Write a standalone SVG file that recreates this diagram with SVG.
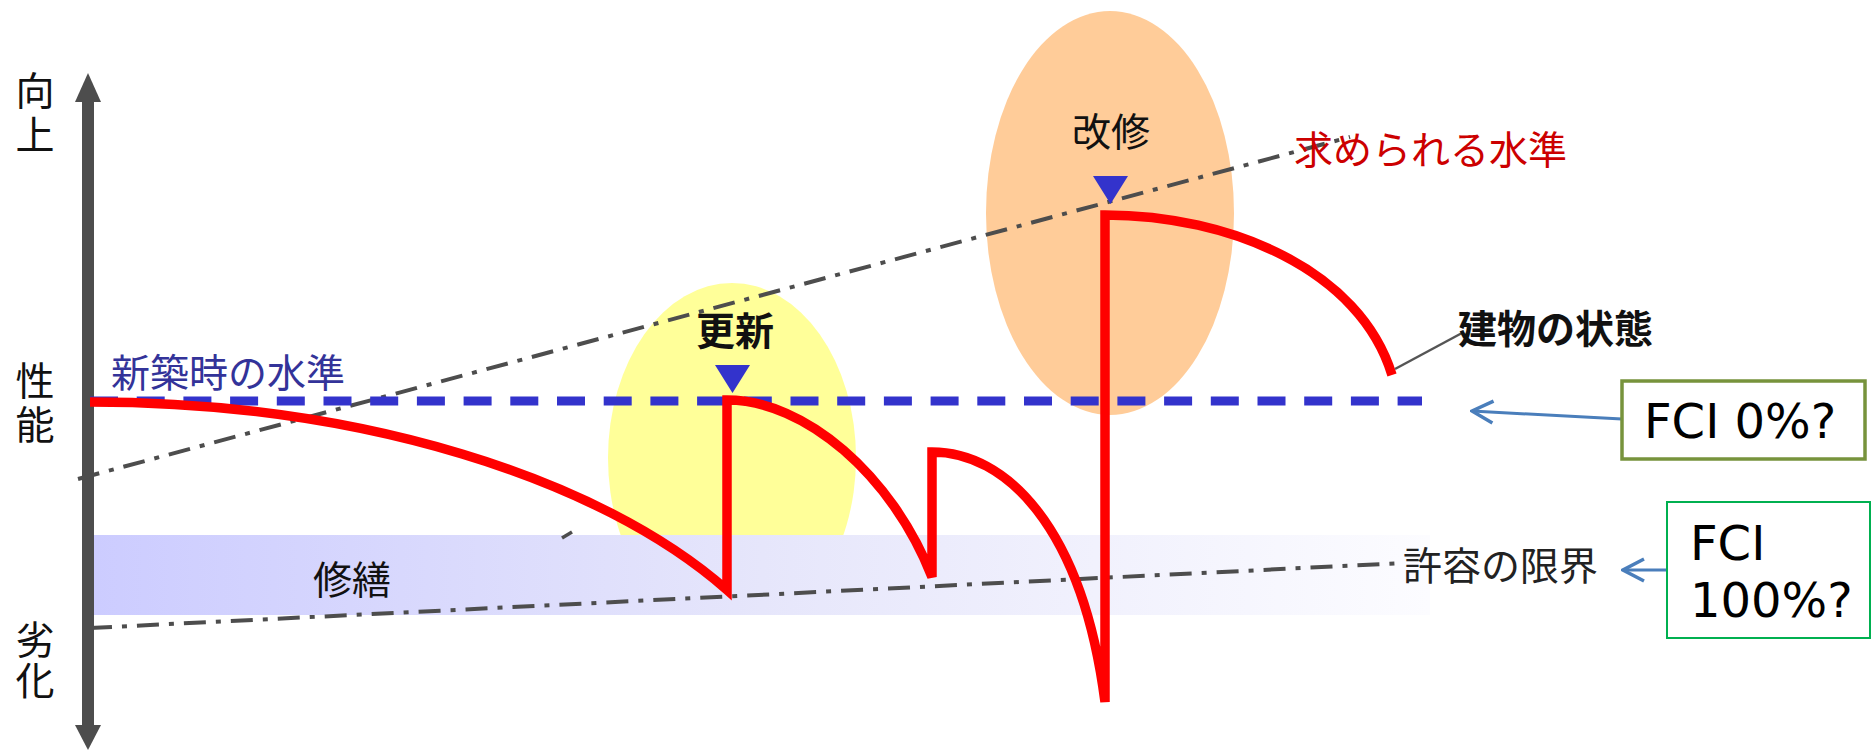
<svg xmlns="http://www.w3.org/2000/svg" width="1872" height="751" viewBox="0 0 1872 751">
<style>
.jp{font-family:"Noto Sans CJK JP","Noto Sans CJK SC",sans-serif;font-size:39px;fill:#111}
.vt{writing-mode:vertical-rl;text-orientation:upright}
.b{font-weight:bold}
.fci{font-family:"DejaVu Sans","Liberation Sans",sans-serif;font-size:48px;fill:#000}
.dd{fill:none;stroke:#4d4d4d;stroke-width:4;stroke-dasharray:22 10 5 10}
.blue{fill:none;stroke:#3333cc;stroke-width:9;stroke-dasharray:28 18.7}
.red{fill:none;stroke:#ff0000;stroke-width:9.5;stroke-linejoin:miter}
.tri{fill:#3333cc}
.ax{fill:#4d4d4d}
.arr{fill:none;stroke:#4a7ebb;stroke-width:3;marker-end:url(#chev)}
</style>
<defs>
<linearGradient id="band" x1="0" y1="0" x2="1" y2="0">
<stop offset="0" stop-color="#ccccff"/>
<stop offset="0.5" stop-color="#e6e6fb"/>
<stop offset="1" stop-color="#fcfcff"/>
</linearGradient>
<clipPath id="aboveBand"><rect x="0" y="0" width="1872" height="535"/></clipPath>
<marker id="chev" viewBox="-25 -13 27 26" refX="0" refY="0" markerWidth="27" markerHeight="26" markerUnits="userSpaceOnUse" orient="auto">
<path d="M-21,-11 L0,0 L-21,11" fill="none" stroke="#4a7ebb" stroke-width="3.5"/>
</marker>
</defs>
<rect width="1872" height="751" fill="#ffffff"/>

<g id="renewal-zone">
<ellipse cx="732" cy="458" rx="124" ry="175" fill="#ffff99" clip-path="url(#aboveBand)"/>
</g>
<g id="retrofit-zone">
<ellipse cx="1110" cy="213" rx="124" ry="202" fill="#ffcc99"/>
</g>
<g id="repair-band">
<rect x="93" y="535" width="1337" height="80" fill="url(#band)"/>
</g>

<g id="axis">
<rect x="82" y="100" width="12" height="627" class="ax"/>
<polygon points="88,73 75,102 101,102" class="ax"/>
<polygon points="88,750 75,725 101,725" class="ax"/>
</g>

<g id="connectors">
<line x1="78" y1="479" x2="1350" y2="137" class="dd"/>
<line x1="90" y1="628" x2="1403" y2="563" class="dd"/>
<line x1="562" y1="538" x2="572" y2="532" stroke="#4d4d4d" stroke-width="3.5"/>
<line x1="90" y1="401" x2="1422" y2="401" class="blue"/>
<path d="M90,402 C360,402 600,478 727,590 L727,400 C805,400 892,475 932,577 L932,452 C1005,452 1082,525 1105,702 L1105,215 C1230,215 1360,270 1392,375" class="red"/>
<line x1="1395" y1="369" x2="1462" y2="333" stroke="#555" stroke-width="2.5"/>
<path d="M1622,419 L1472,411" class="arr"/>
<path d="M1667,570 L1623,570" class="arr"/>
</g>

<g id="markers">
<polygon points="715,365 750,365 732.5,393" class="tri"/>
<polygon points="1093,176 1128,176 1110.5,204" class="tri"/>
</g>

<g id="axis-labels">
<text class="jp vt" x="35" y="71" style="letter-spacing:5px">向上</text>
<text class="jp vt" x="35" y="361" style="letter-spacing:5px">性能</text>
<text class="jp vt" x="35" y="620" style="letter-spacing:2px">劣化</text>
</g>

<g id="label-new">
<text class="jp" x="111" y="387" style="fill:#333399">新築時の水準</text>
</g>
<g id="label-required">
<text class="jp" x="1294" y="164" style="fill:#cc0000">求められる水準</text>
</g>
<g id="label-retrofit">
<text class="jp" x="1111" y="146" text-anchor="middle">改修</text>
</g>
<g id="label-renewal">
<text class="jp b" x="735" y="345" text-anchor="middle">更新</text>
</g>
<g id="label-state">
<text class="jp b" x="1458" y="343">建物の状態</text>
</g>
<g id="label-limit">
<text class="jp" x="1403" y="580" style="fill:#222">許容の限界</text>
</g>
<g id="label-repair">
<text class="jp" x="352" y="594" text-anchor="middle">修繕</text>
</g>

<g id="fci0">
<rect x="1622" y="381" width="243" height="78" fill="#ffffff" stroke="#77933c" stroke-width="3.5"/>
<text class="fci" x="1644" y="438">FCI 0%?</text>
</g>
<g id="fci100">
<rect x="1667" y="502" width="203" height="136" fill="#ffffff" stroke="#00b050" stroke-width="2"/>
<text class="fci" x="1690" y="560">FCI</text>
<text class="fci" x="1690" y="617">100%?</text>
</g>
</svg>
